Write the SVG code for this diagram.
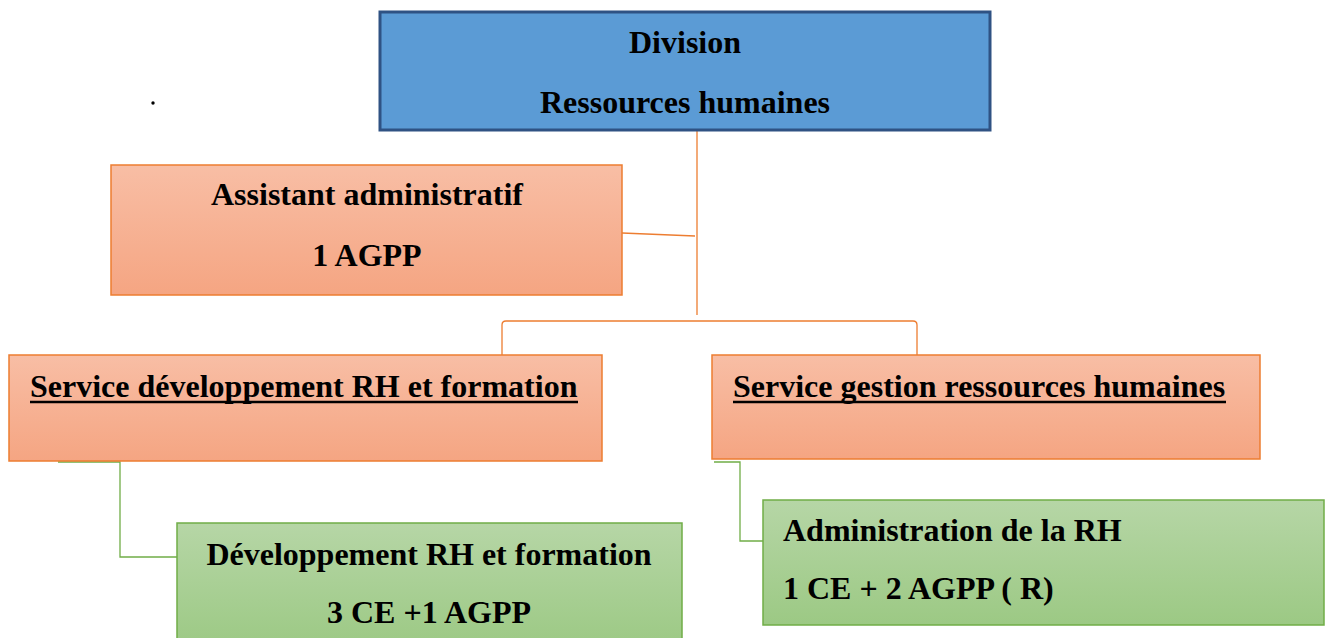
<svg xmlns="http://www.w3.org/2000/svg" width="1330" height="638" viewBox="0 0 1330 638">
  <style>
    .t { font-family: "Liberation Serif", "Times New Roman", serif; font-weight: bold; font-size: 32px; fill: #000; }
    .c { text-anchor: middle; }
    .ul { stroke: #000; stroke-width: 2.5; }
    .orange { fill: url(#gOrange); stroke: #ed7d31; stroke-width: 1.5; }
    .green { fill: url(#gGreen); stroke: #70ad47; stroke-width: 1.5; }
    .lo { fill: none; stroke: #ed7d31; stroke-width: 1.3; }
    .lg { fill: none; stroke: #70ad47; stroke-width: 1.3; }
  </style>
  <defs>
    <linearGradient id="gOrange" x1="0" y1="0" x2="0" y2="1">
      <stop offset="0" stop-color="#f8bea5"/>
      <stop offset="1" stop-color="#f5a582"/>
    </linearGradient>
    <linearGradient id="gGreen" x1="0" y1="0" x2="0" y2="1">
      <stop offset="0" stop-color="#b6d6a6"/>
      <stop offset="1" stop-color="#9cc984"/>
    </linearGradient>
  </defs>
  <rect width="1330" height="638" fill="#fff"/>

  <!-- connectors -->
  <g id="connectors">
    <line class="lo" x1="697" y1="130" x2="697" y2="315"/>
    <line class="lo" x1="622" y1="233" x2="695" y2="236"/>
    <path class="lo" d="M502,357 L502,325 Q502,321 506,321 L913,321 Q917,321 917,325 L917,357"/>
    <path class="lg" d="M58,462 L120,462 L120,557 L177,557"/>
    <path class="lg" d="M714,462 L740,462 L740,541 L763,541"/>
  </g>

  <!-- stray dot -->
  <circle cx="153" cy="103" r="1.7" fill="#000"/>

  <g id="division">
    <rect x="380" y="12" width="610" height="118" fill="#5b9bd5" stroke="#2f5283" stroke-width="3"/>
    <text class="t c" x="685" y="53">Division</text>
    <text class="t c" x="685" y="113">Ressources humaines</text>
  </g>

  <g id="assistant">
    <rect class="orange" x="111" y="165" width="511" height="130"/>
    <text class="t c" x="367" y="205">Assistant administratif</text>
    <text class="t c" x="367" y="266">1 AGPP</text>
  </g>

  <g id="service-dev">
    <rect class="orange" x="9" y="355" width="593" height="106"/>
    <text class="t" x="30" y="397">Service développement RH et formation</text>
    <line class="ul" x1="30" y1="402" x2="578" y2="402"/>
  </g>

  <g id="service-gestion">
    <rect class="orange" x="712" y="355" width="548" height="104"/>
    <text class="t" x="733" y="397">Service gestion ressources humaines</text>
    <line class="ul" x1="733" y1="402" x2="1226" y2="402"/>
  </g>

  <g id="dev-rh">
    <rect class="green" x="177" y="523" width="505" height="125"/>
    <text class="t c" x="429" y="565">Développement RH et formation</text>
    <text class="t c" x="429" y="623">3 CE +1 AGPP</text>
  </g>

  <g id="admin-rh">
    <rect class="green" x="763" y="500" width="561" height="125"/>
    <text class="t" x="783" y="541">Administration de la RH</text>
    <text class="t" x="783" y="599">1 CE + 2 AGPP ( R)</text>
  </g>
</svg>
